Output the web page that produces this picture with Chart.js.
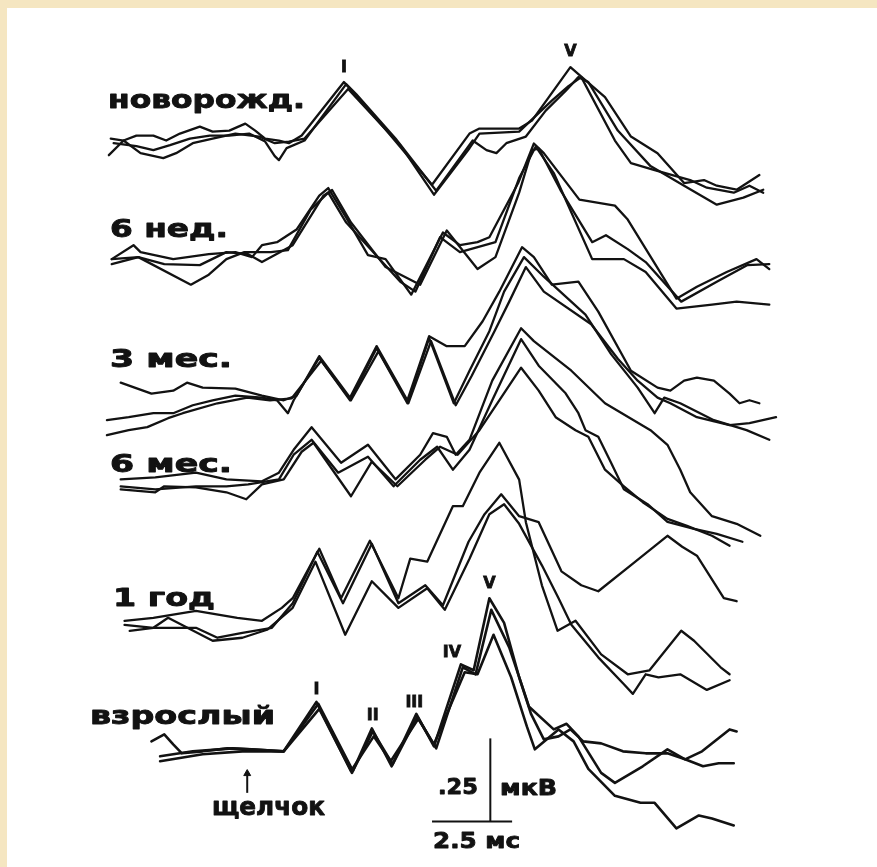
<!DOCTYPE html>
<html>
<head>
<meta charset="utf-8">
<script src="https://cdn.jsdelivr.net/npm/chart.js@4/dist/chart.umd.min.js"></script>
<style>
  html, body { margin: 0; padding: 0; background: #ffffff; }
  canvas { display: block; }
</style>
</head>
<body>
<canvas id="abr" width="877" height="867"></canvas>
<script>
// Auditory brainstem responses by age: three repeated recordings per age.
// Each point is [time after the click, ms ; amplitude relative to the row baseline, µV].

const newborn1 = [[-4.26,0.010],[-3.86,0.004],[-3.46,0.019],[-2.93,0.019],[-2.53,0.004],[-2.10,0.025],[-1.48,0.046],[-1.08,0.031],[-0.56,0.034],[-0.06,0.055],[0.25,0.034],[0.56,0.010],[0.99,0.004],[1.30,-0.004],[1.70,0.019],[3.02,0.180],[3.89,0.085],[4.32,0.037],[5.77,-0.129],[6.94,0.025],[7.25,0.040],[8.49,0.040],[8.89,0.064],[10.09,0.225],[10.34,0.204],[11.17,0.135],[11.98,0.016],[12.81,-0.034],[13.64,-0.124],[14.26,-0.115],[14.66,-0.132],[15.28,-0.144],[15.99,-0.100]];
const newborn2 = [[-4.17,-0.004],[-3.46,-0.013],[-2.93,-0.025],[-2.41,-0.010],[-1.79,0.010],[-1.17,0.019],[-0.56,0.019],[0.06,0.025],[0.56,0.001],[0.86,-0.043],[0.99,-0.055],[1.23,-0.019],[1.79,0.004],[3.09,0.174],[3.40,0.144],[4.63,0.010],[5.90,-0.147],[7.04,0.004],[7.47,-0.025],[7.78,-0.034],[8.09,-0.004],[8.70,0.016],[9.32,0.094],[9.94,0.153],[10.34,0.195],[10.65,0.180],[11.57,0.034],[12.59,-0.073],[13.64,-0.132],[14.66,-0.189],[15.49,-0.168],[16.11,-0.144]];
const newborn3 = [[-4.32,-0.040],[-3.86,0.004],[-3.33,-0.034],[-2.62,-0.049],[-2.22,-0.034],[-1.70,-0.004],[-1.08,0.010],[-0.37,0.025],[0.37,0.016],[0.86,-0.004],[1.30,0.001],[1.79,0.010],[3.15,0.159],[4.78,-0.010],[5.83,-0.159],[6.94,-0.019],[7.25,0.025],[8.49,0.031],[9.51,0.124],[10.03,0.168],[10.43,0.195],[11.48,0.004],[11.98,-0.064],[12.72,-0.085],[13.83,-0.115],[14.35,-0.138],[15.19,-0.153],[15.68,-0.132],[16.11,-0.153]];

const weeks6a = [[-4.23,0.007],[-3.55,0.049],[-3.33,0.028],[-2.31,0.007],[-1.20,0.022],[-0.37,0.028],[0.15,0.013],[0.46,0.049],[0.93,0.058],[1.54,0.096],[2.25,0.198],[2.53,0.221],[3.09,0.132],[3.77,0.019],[4.32,0.007],[5.12,-0.100],[6.11,0.087],[6.64,0.049],[7.19,0.058],[7.56,0.073],[8.46,0.236],[8.95,0.355],[9.26,0.326],[10.37,0.186],[11.48,0.168],[11.88,0.126],[13.40,-0.112],[14.04,-0.076],[14.97,-0.032],[15.90,0.007],[16.30,-0.023]];
const weeks6b = [[-4.23,-0.008],[-3.40,0.013],[-2.59,-0.008],[-1.48,-0.011],[-0.65,0.028],[0.03,0.022],[0.46,-0.002],[1.02,0.028],[1.42,0.049],[2.38,0.198],[2.65,0.215],[3.24,0.117],[4.32,-0.017],[5.40,-0.070],[6.23,0.093],[7.19,-0.023],[7.75,0.013],[8.49,0.207],[8.89,0.335],[9.10,0.340],[9.78,0.215],[10.77,0.058],[11.20,0.079],[11.88,0.037],[12.44,-0.002],[13.55,-0.121],[14.66,-0.061],[15.62,-0.011],[16.30,-0.008]];
const weeks6c = [[-4.23,0.007],[-3.40,0.013],[-1.76,-0.070],[-1.20,-0.040],[-0.65,0.007],[-0.09,0.028],[0.74,0.028],[1.27,0.034],[1.98,0.156],[2.53,0.207],[3.09,0.117],[4.78,-0.061],[5.25,-0.091],[6.02,0.073],[6.64,0.028],[7.75,0.058],[8.49,0.251],[9.01,0.346],[9.57,0.266],[10.77,0.007],[11.76,0.007],[12.44,-0.032],[13.40,-0.142],[14.51,-0.130],[15.28,-0.121],[16.30,-0.130]];

const months3a = [[-3.95,0.035],[-2.99,0.002],[-2.31,0.011],[-1.88,0.035],[-1.39,0.020],[-0.37,0.017],[0.46,-0.004],[1.14,-0.018],[1.54,-0.004],[2.25,0.115],[3.21,-0.010],[4.04,0.145],[5.00,-0.018],[5.68,0.175],[6.23,0.145],[6.79,0.145],[7.35,0.220],[7.87,0.309],[8.58,0.443],[8.95,0.413],[9.51,0.330],[10.34,0.339],[10.96,0.249],[11.98,0.071],[12.81,0.020],[13.21,0.011],[13.64,0.041],[14.04,0.050],[14.57,0.041],[15.06,0.002],[15.37,-0.027],[15.68,-0.018],[15.99,-0.027]];
const months3b = [[-4.38,-0.078],[-3.70,-0.069],[-2.93,-0.057],[-2.31,-0.057],[-1.70,-0.033],[-1.08,-0.018],[-0.37,-0.004],[0.46,-0.010],[0.93,-0.018],[1.27,-0.057],[1.45,-0.018],[2.25,0.110],[3.21,-0.018],[4.04,0.139],[5.00,-0.027],[5.68,0.169],[6.45,-0.027],[6.94,0.071],[7.56,0.190],[8.02,0.309],[8.64,0.413],[9.26,0.354],[10.56,0.240],[11.36,0.121],[12.19,0.020],[12.72,-0.057],[13.02,-0.010],[13.52,-0.027],[14.57,-0.078],[15.59,-0.108],[16.30,-0.137]];
const months3c = [[-4.38,-0.123],[-3.70,-0.108],[-3.12,-0.099],[-2.47,-0.072],[-2.01,-0.057],[-0.93,-0.027],[0.00,-0.010],[0.71,-0.018],[1.39,-0.012],[2.31,0.101],[3.24,-0.018],[4.10,0.130],[5.03,-0.027],[5.74,0.160],[6.51,-0.033],[7.01,0.056],[7.72,0.190],[8.18,0.279],[8.70,0.383],[9.26,0.309],[10.74,0.211],[11.57,0.107],[12.19,0.041],[12.81,-0.010],[13.21,-0.027],[14.04,-0.069],[15.06,-0.093],[15.68,-0.087],[16.51,-0.069]];

const months6a = [[-3.95,0.004],[-2.87,0.010],[-1.60,0.024],[-0.65,0.004],[0.46,-0.002],[0.99,0.024],[1.45,0.093],[2.01,0.161],[2.93,0.054],[3.77,0.108],[4.63,0.004],[5.40,0.078],[5.80,0.143],[6.23,0.132],[6.51,0.078],[6.94,0.123],[7.65,0.301],[8.55,0.459],[8.95,0.420],[10.12,0.331],[11.17,0.233],[12.59,0.152],[13.12,0.108],[13.52,0.033],[13.83,-0.035],[14.51,-0.107],[15.28,-0.130],[16.02,-0.166]];
const months6b = [[-3.95,-0.017],[-2.87,-0.026],[-1.60,-0.017],[-0.65,-0.017],[0.03,-0.011],[0.99,0.004],[1.45,0.078],[2.01,0.123],[2.84,0.024],[3.77,0.072],[4.57,-0.017],[5.40,0.063],[5.93,0.102],[6.42,0.033],[6.94,0.093],[7.65,0.242],[8.55,0.426],[9.10,0.346],[9.94,0.263],[10.34,0.203],[10.56,0.152],[10.96,0.132],[11.36,0.054],[11.76,-0.026],[12.50,-0.071],[13.12,-0.124],[13.95,-0.145],[14.66,-0.160],[15.46,-0.184]];
const months6c = [[-3.95,-0.026],[-2.87,-0.035],[-2.59,-0.017],[-1.60,-0.020],[-0.65,-0.035],[-0.03,-0.056],[0.46,-0.011],[1.14,0.004],[1.70,0.087],[2.07,0.114],[3.24,-0.047],[3.89,0.057],[4.69,-0.017],[5.56,0.063],[6.02,0.102],[6.57,0.078],[7.25,0.152],[7.87,0.242],[8.55,0.340],[9.10,0.271],[9.63,0.191],[10.25,0.152],[10.65,0.132],[11.17,0.033],[11.76,-0.017],[12.35,-0.065],[13.12,-0.115],[13.73,-0.136],[14.51,-0.166],[15.06,-0.196]];

const year1a = [[-3.83,0.018],[-2.93,0.027],[-1.60,0.048],[-0.31,0.027],[0.46,0.018],[1.08,0.057],[1.42,0.086],[2.25,0.235],[2.93,0.086],[3.83,0.259],[4.72,0.086],[5.09,0.205],[5.62,0.196],[6.42,0.363],[6.73,0.363],[7.25,0.464],[7.87,0.554],[8.49,0.443],[8.70,0.315],[9.20,0.125],[9.69,-0.012],[10.25,0.018],[11.05,-0.083],[11.88,-0.143],[12.56,-0.131],[13.55,-0.012],[13.95,-0.042],[14.78,-0.122],[15.06,-0.143]];
const year1b = [[-3.83,0.006],[-2.93,-0.003],[-1.60,-0.003],[-0.93,-0.033],[-0.15,-0.018],[0.77,-0.003],[1.42,0.071],[2.19,0.226],[2.99,0.071],[3.89,0.250],[4.72,0.071],[5.56,0.125],[6.11,0.065],[6.91,0.256],[7.41,0.339],[7.93,0.399],[8.49,0.333],[9.10,0.315],[9.81,0.167],[10.43,0.125],[10.96,0.107],[12.04,0.190],[13.12,0.274],[13.58,0.241],[14.04,0.214],[14.88,0.086],[15.28,0.077]];
const year1c = [[-3.67,-0.012],[-2.93,-0.003],[-2.47,0.027],[-1.08,-0.042],[-0.15,-0.033],[0.62,-0.009],[1.42,0.057],[2.13,0.196],[3.06,-0.024],[3.89,0.137],[4.72,0.057],[5.62,0.116],[6.17,0.051],[6.94,0.205],[7.56,0.339],[8.02,0.369],[8.49,0.310],[9.20,0.185],[9.72,0.086],[10.12,0.006],[10.96,-0.092],[11.76,-0.173],[12.04,-0.202],[12.44,-0.143],[12.84,-0.152],[13.52,-0.143],[14.35,-0.190],[15.06,-0.161]];

const adultA = [[-2.99,0.015],[-2.59,0.036],[-2.31,0.006],[-2.04,-0.021],[-1.39,-0.015],[-0.62,-0.006],[0.15,-0.009],[1.14,-0.015],[2.16,0.134],[3.27,-0.080],[3.89,0.054],[4.51,-0.060],[5.28,0.098],[5.83,0.000],[6.67,0.247],[7.07,0.229],[7.56,0.446],[8.02,0.372],[8.49,0.208],[8.86,0.098],[9.26,0.021],[9.72,0.030],[10.09,0.051],[10.49,0.015],[11.05,0.009],[11.73,-0.015],[12.44,-0.021],[13.12,-0.021],[13.67,-0.039],[14.20,-0.015],[15.06,0.051],[15.28,0.045]];
const adultB = [[-2.72,-0.030],[-1.70,-0.015],[-0.46,-0.006],[1.14,-0.015],[2.22,0.128],[3.30,-0.074],[3.92,0.045],[4.54,-0.054],[5.31,0.089],[5.90,-0.006],[6.73,0.238],[7.13,0.217],[7.62,0.411],[8.18,0.298],[8.80,0.119],[9.57,0.051],[9.97,0.068],[10.34,0.030],[11.05,-0.080],[11.48,-0.110],[12.35,-0.060],[13.12,-0.009],[13.67,-0.039],[14.23,-0.060],[14.72,-0.051],[15.19,-0.051]];
const adultC = [[-2.72,-0.045],[-1.39,-0.024],[-0.15,-0.015],[1.14,-0.015],[2.25,0.113],[3.24,-0.074],[3.95,0.030],[4.48,-0.045],[5.34,0.083],[5.83,0.006],[6.79,0.223],[7.19,0.217],[7.69,0.336],[8.24,0.208],[8.73,0.060],[8.98,-0.009],[9.72,0.051],[10.19,0.015],[10.65,-0.068],[11.48,-0.149],[12.28,-0.170],[12.72,-0.170],[13.40,-0.247],[14.10,-0.208],[14.51,-0.217],[15.19,-0.238]];

// Age groups, their stacking offsets (µV) and recordings
const ageNames   = ['новорожд.', '6 нед.', '3 мес.', '6 мес.', '1 год', 'взрослый'];
const ageOffsets = [1.82, 1.46, 1.06, 0.80, 0.36, 0.00];
const ageTraces  = [
  [newborn1, newborn2, newborn3],
  [weeks6a, weeks6b, weeks6c],
  [months3a, months3b, months3c],
  [months6a, months6b, months6c],
  [year1a, year1b, year1c],
  [adultA, adultB, adultC]
];

// Wave labels: [numeral, peak time ms, peak amplitude µV]
const newbornWaves = [['I', 3.02, 0.180], ['V', 10.09, 0.225]];
const adultWaves   = [['I', 2.16, 0.134], ['II', 3.89, 0.054], ['III', 5.28, 0.098], ['IV', 6.67, 0.247], ['V', 7.56, 0.446]];

// Calibration in the adult row: 0.25 µV and 2.5 ms
const calibVolt  = [[7.59, -0.226], [7.59, 0.024]];
const calibTime  = [[5.77, -0.226], [8.27, -0.226]];
const clickArrow = [[0, -0.140], [0, -0.082]];

const INK = '#121212';

const datasets = [];
ageTraces.forEach((group, gi) => {
  group.forEach(trace => {
    datasets.push({
      data: trace.map(p => ({ x: p[0], y: p[1] + ageOffsets[gi] })),
      showLine: true,
      borderColor: INK,
      borderWidth: gi === 5 ? 2.6 : 2.3,
      pointRadius: 0,
      tension: 0,
      borderJoinStyle: 'round',
      borderCapStyle: 'round',
      clip: false
    });
  });
});
[calibVolt, calibTime].forEach(seg => {
  datasets.push({
    data: seg.map(p => ({ x: p[0], y: p[1] })),
    showLine: true, borderColor: INK, borderWidth: 2, pointRadius: 0, clip: false
  });
});
datasets.push({
  data: clickArrow.map(p => ({ x: p[0], y: p[1] })),
  showLine: true, borderColor: INK, borderWidth: 2,
  pointStyle: 'triangle', pointRadius: [0, 4], backgroundColor: INK, pointBorderWidth: 1,
  clip: false
});

// Page frame: cream margin on the top and left edges
const framePlugin = {
  id: 'frame',
  beforeDraw(chart) {
    const ctx = chart.ctx;
    ctx.save();
    ctx.fillStyle = '#f5e6c1';
    ctx.fillRect(0, 0, chart.width, chart.height);
    ctx.fillStyle = '#ffffff';
    ctx.fillRect(7, 8, chart.width - 7, chart.height - 8);
    ctx.restore();
  }
};

// Heavy, extended lettering: stretch each label to its width and thicken it
function wideText(ctx, text, x, y, width, font) {
  ctx.save();
  ctx.font = font;
  const w = ctx.measureText(text).width;
  ctx.translate(x, y);
  ctx.scale(width / w, 1);
  ctx.lineWidth = 0.9;
  ctx.strokeStyle = INK;
  ctx.lineJoin = 'round';
  ctx.fillText(text, 0, 0);
  ctx.strokeText(text, 0, 0);
  ctx.restore();
}

const textPlugin = {
  id: 'texts',
  afterDatasetsDraw(chart, args, opts) {
    const ctx = chart.ctx;
    const xs = chart.scales.x, ys = chart.scales.y;
    ctx.save();
    ctx.fillStyle = INK;
    ctx.textBaseline = 'alphabetic';
    opts.rowLabels.forEach((l, i) => wideText(ctx, ageNames[i], l.x, l.y, l.w, opts.font));
    opts.extra.forEach(l => wideText(ctx, l.text, l.x, l.y, l.w, l.font || opts.font));
    ctx.font = opts.waveFont;
    ctx.textAlign = 'center';
    ctx.lineWidth = 0.8;
    ctx.strokeStyle = INK;
    const drawWaves = (list, off, shifts) => list.forEach((w, i) => {
      const px = xs.getPixelForValue(w[1]) + shifts[i][0];
      const py = ys.getPixelForValue(w[2] + off) - shifts[i][1];
      ctx.fillText(w[0], px, py);
      ctx.strokeText(w[0], px, py);
    });
    drawWaves(newbornWaves, ageOffsets[0], [[0, 10], [0, 11]]);
    drawWaves(adultWaves, ageOffsets[5], [[0, 8], [1, 8], [-2, 7], [-9, 7], [0, 10]]);
    ctx.restore();
  }
};

new Chart(document.getElementById('abr'), {
  type: 'scatter',
  data: { datasets },
  options: {
    responsive: false,
    animation: false,
    devicePixelRatio: 1,
    layout: { padding: 0 },
    scales: {
      x: { type: 'linear', min: -7.562, max: 19.506, display: false },
      y: { type: 'linear', min: -0.3482, max: 2.2321, display: false }
    },
    plugins: {
      legend: { display: false },
      tooltip: { enabled: false },
      texts: {
        font: 'bold 25px "DejaVu Sans"',
        waveFont: 'bold 16px "DejaVu Sans"',
        rowLabels: [
          { x: 108, y: 108, w: 197 },
          { x: 110, y: 237, w: 118 },
          { x: 110, y: 367, w: 122 },
          { x: 110, y: 472, w: 122 },
          { x: 113, y: 606, w: 102 },
          { x: 90,  y: 724, w: 185 }
        ],
        extra: [
          { text: 'щелчок', x: 212, y: 815, w: 113 },
          { text: '.25', x: 438, y: 794, w: 40, font: 'bold 22px "DejaVu Sans"' },
          { text: 'мкВ', x: 500, y: 795, w: 57, font: 'bold 22px "DejaVu Sans"' },
          { text: '2.5 мс', x: 433, y: 848, w: 87, font: 'bold 22px "DejaVu Sans"' }
        ]
      }
    }
  },
  plugins: [framePlugin, textPlugin]
});
</script>
</body>
</html>
